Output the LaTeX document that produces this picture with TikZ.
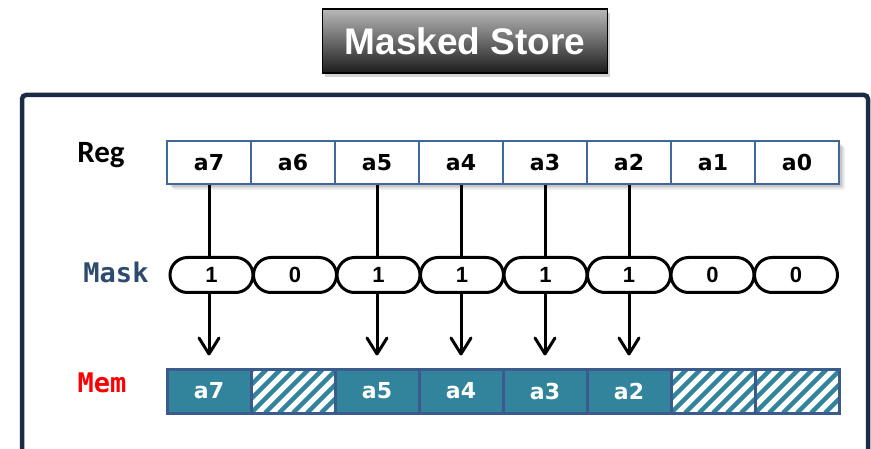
\documentclass[tikz,border=0pt]{standalone}
\usepackage{fontspec}
\setmainfont{DejaVu Sans}
\newfontfamily\headfont{Liberation Sans}
\newfontfamily\labfont{Carlito}
\newfontfamily\codefont{DejaVu Sans Mono}
\usetikzlibrary{shadows,shapes.misc,arrows.meta}

\definecolor{frameblue}{HTML}{1B2B45}
\definecolor{regborder}{HTML}{41679B}
\definecolor{memteal}{HTML}{31849B}
\definecolor{memborder}{HTML}{3B5B8C}
\definecolor{maskblue}{HTML}{2E4A6E}
\definecolor{titletop}{HTML}{B8B8B8}
\definecolor{titlebot}{HTML}{1C1C1C}

\tikzset{
  frameline/.style={draw=frameblue,line width=4.5pt,rounded corners=4pt},
  titlebox/.style={draw=black,line width=1.2pt,top color=titletop,bottom color=titlebot,
    minimum width=285pt,minimum height=64pt,inner sep=0pt,text=white,
    font=\headfont\bfseries\fontsize{37}{37}\selectfont,
    drop shadow={shadow xshift=2pt,shadow yshift=-4pt,opacity=.35}},
  regcell/.style={draw=regborder,fill=white,line width=2.5pt,minimum width=84pt,
    minimum height=43pt,inner sep=0pt,font=\bfseries\fontsize{22}{22}\selectfont},
  pill/.style={rounded rectangle,draw=black,fill=white,line width=3pt,minimum width=83pt,
    minimum height=35pt,inner sep=0pt,font=\headfont\bfseries\fontsize{22}{22}\selectfont},
  memcell/.style={draw=memborder,fill=memteal,line width=3pt,minimum width=84pt,
    minimum height=44pt,inner sep=0pt,text=white,font=\bfseries\fontsize{22}{22}\selectfont},
  memhatch/.style={memcell,fill=white,path picture={
    \foreach \s in {-70,-56,...,100}
      \draw[memteal,line width=4.5pt] ([xshift=\s pt]path picture bounding box.south west) -- ++(60pt,60pt);}},
  flow/.style={line width=3pt,-{Straight Barb[width=20pt,length=16pt,line join=round,line cap=round]},shorten >=12pt},
  sidelabel/.style={inner sep=0pt}
}

\begin{document}
\begin{tikzpicture}[x=1pt,y=-1pt]
\useasboundingbox (0,0) rectangle (871,449);

% outer frame (open at the bottom)
\draw[frameline] (22,449) -- (22,95) -- (868,95) -- (868,449);

% title
\node[titlebox] (title) at (465,41) {Masked Store};

% soft shadow under the register row
\foreach \o/\a in {6/.06,4.5/.08,3/.1}
  \fill[black,opacity=\a,rounded corners=2pt] (167+\o,141+\o) rectangle (839+\o,184+\o);

% side labels
\node[sidelabel,font=\labfont\bfseries\fontsize{31}{31}\selectfont] (lreg) at (101,155) {Reg};
\node[sidelabel,font=\codefont\bfseries\fontsize{27}{27}\selectfont,text=maskblue] (lmask) at (116,272) {Mask};
\node[sidelabel,font=\codefont\bfseries\fontsize{27}{27}\selectfont,text=red] (lmem) at (102,383) {Mem};

% register cells
\foreach \i [count=\k from 0] in {7,6,5,4,3,2,1,0}
  \node[regcell] (reg\i) at (209+84*\k,162.5) {a\i};

% memory cells: stored lanes and untouched (hatched) lanes
\foreach \i/\x in {7/209,5/377,4/461,3/545,2/629}
  \node[memcell] (mem\i) at (\x,391) {a\i};
\foreach \i/\x in {6/293,1/713,0/797}
  \node[memhatch] (mem\i) at (\x,391) {};

% data flow for the enabled lanes
\foreach \i in {7,5,4,3,2}
  \draw[flow] (reg\i.south) -- (mem\i.north);

% mask pills
\foreach \i/\m [count=\k from 0] in {7/1,6/0,5/1,4/1,3/1,2/1,1/0,0/0}
  \node[pill] (mask\i) at (211.5+83.5*\k,275) {\m};

\end{tikzpicture}
\end{document}
